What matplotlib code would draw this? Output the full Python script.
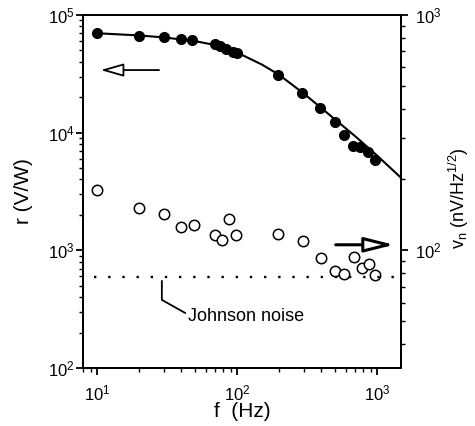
import matplotlib.pyplot as plt
from matplotlib.ticker import LogLocator, NullFormatter

plt.rcParams['font.family'] = ['Liberation Sans', 'DejaVu Sans']
plt.rcParams['mathtext.fontset'] = 'custom'
plt.rcParams['mathtext.rm'] = 'Liberation Sans'
plt.rcParams['mathtext.it'] = 'Liberation Sans:italic'

# responsivity r (V/W), left axis
f_r = [10, 20, 30, 40, 48, 70, 76, 84, 93, 100, 197, 290, 392, 500, 580, 676, 756, 860, 960]
r = [70000, 66000, 65000, 62000, 61400, 56700, 54600, 51100, 48800, 47300,
     30900, 21600, 16100, 12200, 9550, 7700, 7500, 6900, 5900]

# fit curve through r
f_fit = [10, 20, 30, 50, 70, 100, 150, 200, 300, 500, 700, 1000, 1480]
r_fit = [70000, 67000, 64500, 60000, 55500, 48000, 38000, 31000, 21500, 13000, 9300, 6400, 4150]

# noise voltage v_n (nV/Hz^1/2), right axis
f_v = [10, 20, 30, 40, 49, 70, 78, 88, 98, 197, 295, 400, 500, 580, 680, 785, 877, 968]
v = [180, 151, 142, 126, 128, 116, 111, 136, 116, 117, 110, 93, 82, 79, 94, 84.5, 87.5, 78.5]

v_johnson = 77
f_johnson = [9.5, 1480]

fig = plt.figure(figsize=(4.75, 4.26), dpi=100)
ax = fig.add_axes([0.1747, 0.1362, 0.6695, 0.8286])
ax2 = ax.twinx()

ax.plot(f_fit, r_fit, color='black', lw=1.5, zorder=2)
ax.plot(f_r, r, 'o', color='black', ms=7, zorder=3)

ax2.plot(f_v, v, 'o', mfc='white', mec='black', mew=1.1, ms=7.5)
ax2.plot(f_johnson, [v_johnson, v_johnson], color='black', lw=1.7,
         linestyle=(0, (1, 5)))

ax.set_xscale('log')
ax.set_yscale('log')
ax2.set_yscale('log')
ax.set_xlim(7.94, 1484)
ax.set_ylim(1e2, 1e5)
ax2.set_ylim(10 ** 1.5, 1e3)

for a in (ax, ax2):
    for s in a.spines.values():
        s.set_linewidth(1.4)
    a.tick_params(which='major', direction='out', length=5, width=1.3, labelsize=12)
    a.tick_params(which='minor', direction='out', length=3, width=1)
    a.yaxis.set_minor_locator(LogLocator(base=10, subs=range(2, 10)))
    a.yaxis.set_minor_formatter(NullFormatter())
ax.xaxis.set_minor_locator(LogLocator(base=10, subs=range(2, 10)))
ax.xaxis.set_minor_formatter(NullFormatter())
ax.tick_params(axis='y', pad=1)
ax.tick_params(axis='x', pad=6)
ax2.tick_params(axis='y', pad=5)

ax.set_xlabel('f  (Hz)', fontsize=15)
ax.xaxis.set_label_coords(0.5, -0.097)
ax.set_ylabel('r (V/W)', fontsize=15)
ax.yaxis.set_label_coords(-0.157, 0.5)
ax2.set_ylabel(r'v$_\mathrm{n}$ (nV/Hz$^{1/2}$)', fontsize=13, rotation=90)
ax2.yaxis.set_label_coords(1.145, 0.48)

# arrows pointing to axes
ax.annotate('', xy=(0.047, 0.844), xytext=(0.248, 0.844), xycoords='axes fraction',
            arrowprops=dict(arrowstyle='-|>,head_length=1.4,head_width=0.4',
                            fc='white', ec='black', lw=1.3))
ax.annotate('', xy=(0.987, 0.349), xytext=(0.786, 0.349), xycoords='axes fraction',
            arrowprops=dict(arrowstyle='-|>,head_length=1.8,head_width=0.45',
                            fc='white', ec='black', lw=2.2))

# Johnson noise label
ax.plot([0.248, 0.248, 0.321], [0.246, 0.193, 0.156], color='black', lw=1.3,
        transform=ax.transAxes)
ax.text(0.330, 0.146, 'Johnson noise', transform=ax.transAxes, fontsize=13,
        va='center', ha='left')

fig.savefig('out.png', dpi=100)
